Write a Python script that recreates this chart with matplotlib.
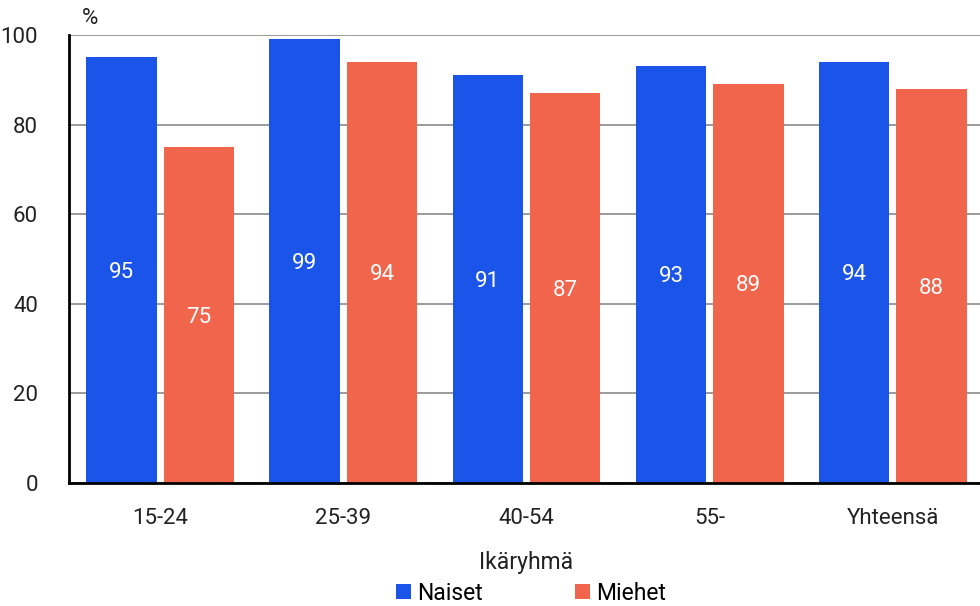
import matplotlib
matplotlib.use("Agg")
import matplotlib.pyplot as plt
import numpy as np

categories = ["15-24", "25-39", "40-54", "55-", "Yhteensä"]
naiset = [95, 99, 91, 93, 94]
miehet = [75, 94, 87, 89, 88]
series_names = ["Naiset", "Miehet"]
colors = ["#1B54E8", "#F2654D"]

plt.rcParams['font.family'] = ['Roboto', 'DejaVu Sans']

fig = plt.figure(figsize=(9.8, 6.06), dpi=100)
ax = fig.add_axes([68.5/980, 1-483/606, 916/980, (483-35)/606])

x = np.arange(len(categories))
w = 0.384
off = 0.211
b1 = ax.bar(x - off, naiset, w, color=colors[0], label=series_names[0], zorder=3)
b2 = ax.bar(x + off, miehet, w, color=colors[1], label=series_names[1], zorder=3)
for bars, vals in ((b1, naiset), (b2, miehet)):
    for r, v in zip(bars, vals):
        ax.text(r.get_x() + r.get_width()/2, v/2 - 0.5, str(v), ha='center', va='center',
                color='white', fontsize=16, zorder=4)

ax.set_xlim(-0.5, 4.5)
ax.set_ylim(0, 100)
ax.set_yticks([0, 20, 40, 60, 80, 100])
ax.set_xticks(x)
ax.set_xticklabels(categories)
ax.tick_params(axis='both', length=0, labelsize=16, colors='#222222')
ax.tick_params(axis='y', pad=22)
ax.tick_params(axis='x', pad=18)
ax.grid(axis='y', color='#8a8a8a', linewidth=1.2, zorder=0)
for s in ['top', 'right']:
    ax.spines[s].set_visible(False)
ax.spines['left'].set_linewidth(2)
ax.spines['bottom'].set_linewidth(2)
ax.spines['left'].set_zorder(5)
ax.spines['bottom'].set_zorder(5)
ax.set_xlabel("Ikäryhmä", fontsize=16.5, color='#222222', labelpad=16)
fig.text(90/980, 1-18/606, "%", fontsize=16, ha='center', va='center', color='#222222')

fig.legend(handles=[b1, b2], loc='center', bbox_to_anchor=(531/980, 1-593/606), ncol=2,
           frameon=False, fontsize=16.5, handlelength=0.65, handleheight=0.65,
           handletextpad=0.3, columnspacing=4.0)

fig.savefig("out.png", dpi=100)
